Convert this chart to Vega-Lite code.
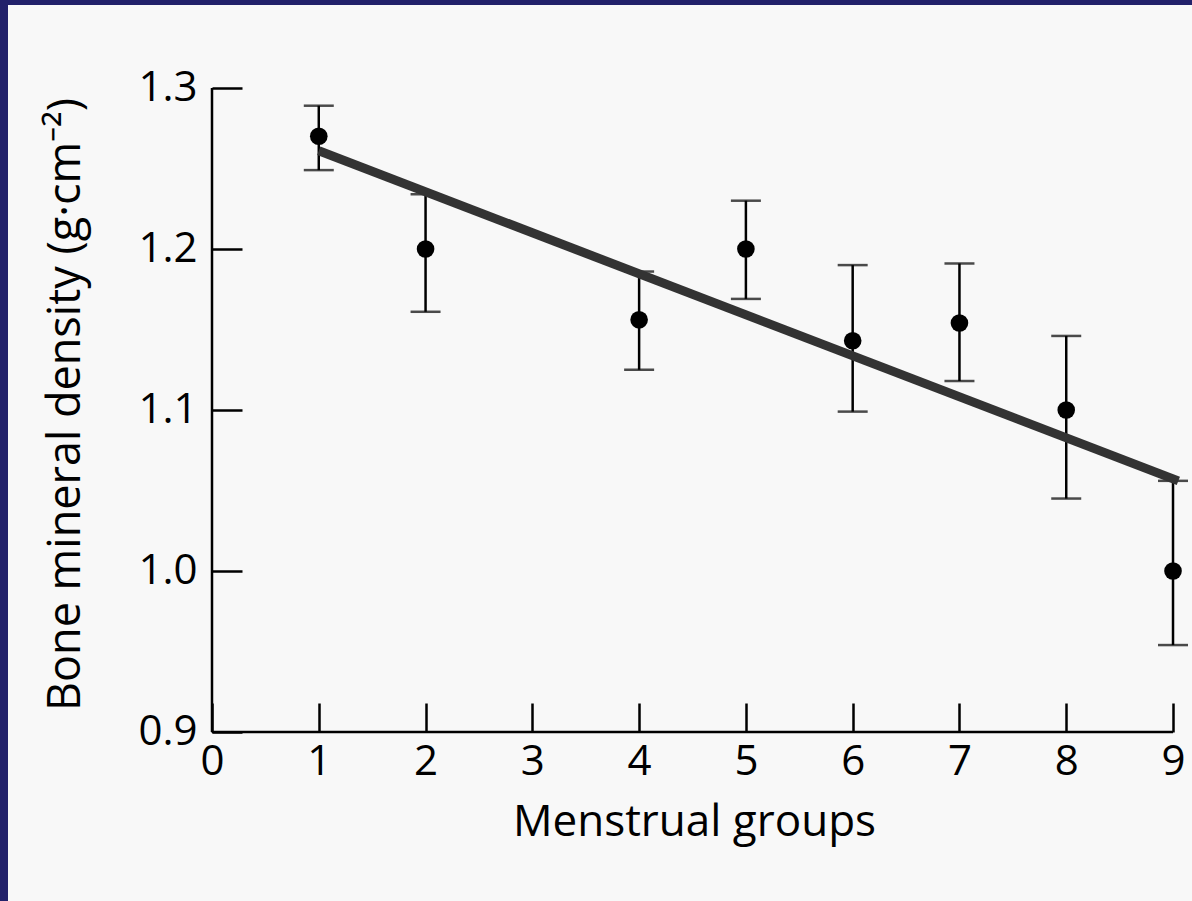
{
  "$schema": "https://vega.github.io/schema/vega-lite/v6.json",
  "width": 1184,
  "height": 896,
  "autosize": {"type": "none"},
  "padding": {"left": 8, "top": 5, "right": 0, "bottom": 0},
  "background": "#22216a",
  "config": {
    "view": {"fill": "#f8f8f8", "stroke": null},
    "font": "Open Sans"
  },
  "datasets": {
    "frame": [
      {"x0": 0, "x1": 9, "y0": 0.9, "y1": 0.9},
      {"x0": 0, "x1": 0, "y0": 0.9, "y1": 1.3}
    ],
    "groups": [
      {"group": 1, "bmd": 1.270, "lo": 1.249, "hi": 1.289},
      {"group": 2, "bmd": 1.200, "lo": 1.161, "hi": 1.234},
      {"group": 4, "bmd": 1.156, "lo": 1.125, "hi": 1.186},
      {"group": 5, "bmd": 1.200, "lo": 1.169, "hi": 1.230},
      {"group": 6, "bmd": 1.143, "lo": 1.099, "hi": 1.190},
      {"group": 7, "bmd": 1.154, "lo": 1.118, "hi": 1.191},
      {"group": 8, "bmd": 1.100, "lo": 1.045, "hi": 1.146},
      {"group": 9, "bmd": 1.000, "lo": 0.954, "hi": 1.056}
    ],
    "fit": [
      {"group": 1, "bmd": 1.261},
      {"group": 9.05, "bmd": 1.056}
    ]
  },
  "layer": [
    {
      "data": {"name": "frame"},
      "mark": {"type": "rule", "strokeWidth": 2.5, "color": "black"},
      "encoding": {
        "x": {
          "field": "x0", "type": "quantitative", "title": "Menstrual groups",
          "scale": {"domain": [-1.9105, 9.1778], "nice": false, "zero": false},
          "axis": {
            "values": [0, 1, 2, 3, 4, 5, 6, 7, 8, 9],
            "format": "d",
            "offset": -169,
            "domain": false,
            "grid": false,
            "tickSize": -29,
            "tickWidth": 2.5,
            "tickColor": "black",
            "labelFontSize": 42,
            "labelColor": "black",
            "labelPadding": 38,
            "titleFontSize": 44,
            "titleFontWeight": "normal",
            "titleColor": "black",
            "titleX": 686,
            "titleY": 103,
            "titleAlign": "center",
            "titleBaseline": "alphabetic"
          }
        },
        "x2": {"field": "x1"},
        "y": {
          "field": "y0", "type": "quantitative", "title": "Bone mineral density (g·cm⁻²)",
          "scale": {"domain": [0.79503, 1.35155], "nice": false, "zero": false},
          "axis": {
            "values": [0.9, 1.0, 1.1, 1.2, 1.3],
            "format": ".1f",
            "offset": -204,
            "domain": false,
            "grid": false,
            "tickSize": -30,
            "tickWidth": 2.5,
            "tickColor": "black",
            "labelFontSize": 42,
            "labelColor": "black",
            "labelPadding": 45,
            "titleFontSize": 45,
            "titleFontWeight": "normal",
            "titleColor": "black",
            "titleX": -133,
            "titleY": 399,
            "titleAngle": -90,
            "titleAlign": "center",
            "titleBaseline": "alphabetic"
          }
        },
        "y2": {"field": "y1"}
      }
    },
    {
      "data": {"name": "groups"},
      "mark": {
        "type": "errorbar",
        "ticks": {"size": 30, "thickness": 2.5, "color": "black"},
        "rule": {"strokeWidth": 2.5, "color": "black"}
      },
      "encoding": {
        "x": {"field": "group", "type": "quantitative", "title": "Menstrual groups"},
        "y": {"field": "lo", "type": "quantitative", "title": "Bone mineral density (g·cm⁻²)"},
        "y2": {"field": "hi"}
      }
    },
    {
      "data": {"name": "fit"},
      "mark": {"type": "line", "strokeWidth": 9, "color": "#333333", "strokeCap": "butt"},
      "encoding": {
        "x": {"field": "group", "type": "quantitative", "title": "Menstrual groups"},
        "y": {"field": "bmd", "type": "quantitative", "title": "Bone mineral density (g·cm⁻²)"}
      }
    },
    {
      "data": {"name": "groups"},
      "mark": {"type": "circle", "size": 310, "color": "black", "opacity": 1},
      "encoding": {
        "x": {"field": "group", "type": "quantitative", "title": "Menstrual groups"},
        "y": {"field": "bmd", "type": "quantitative", "title": "Bone mineral density (g·cm⁻²)"}
      }
    }
  ]
}
